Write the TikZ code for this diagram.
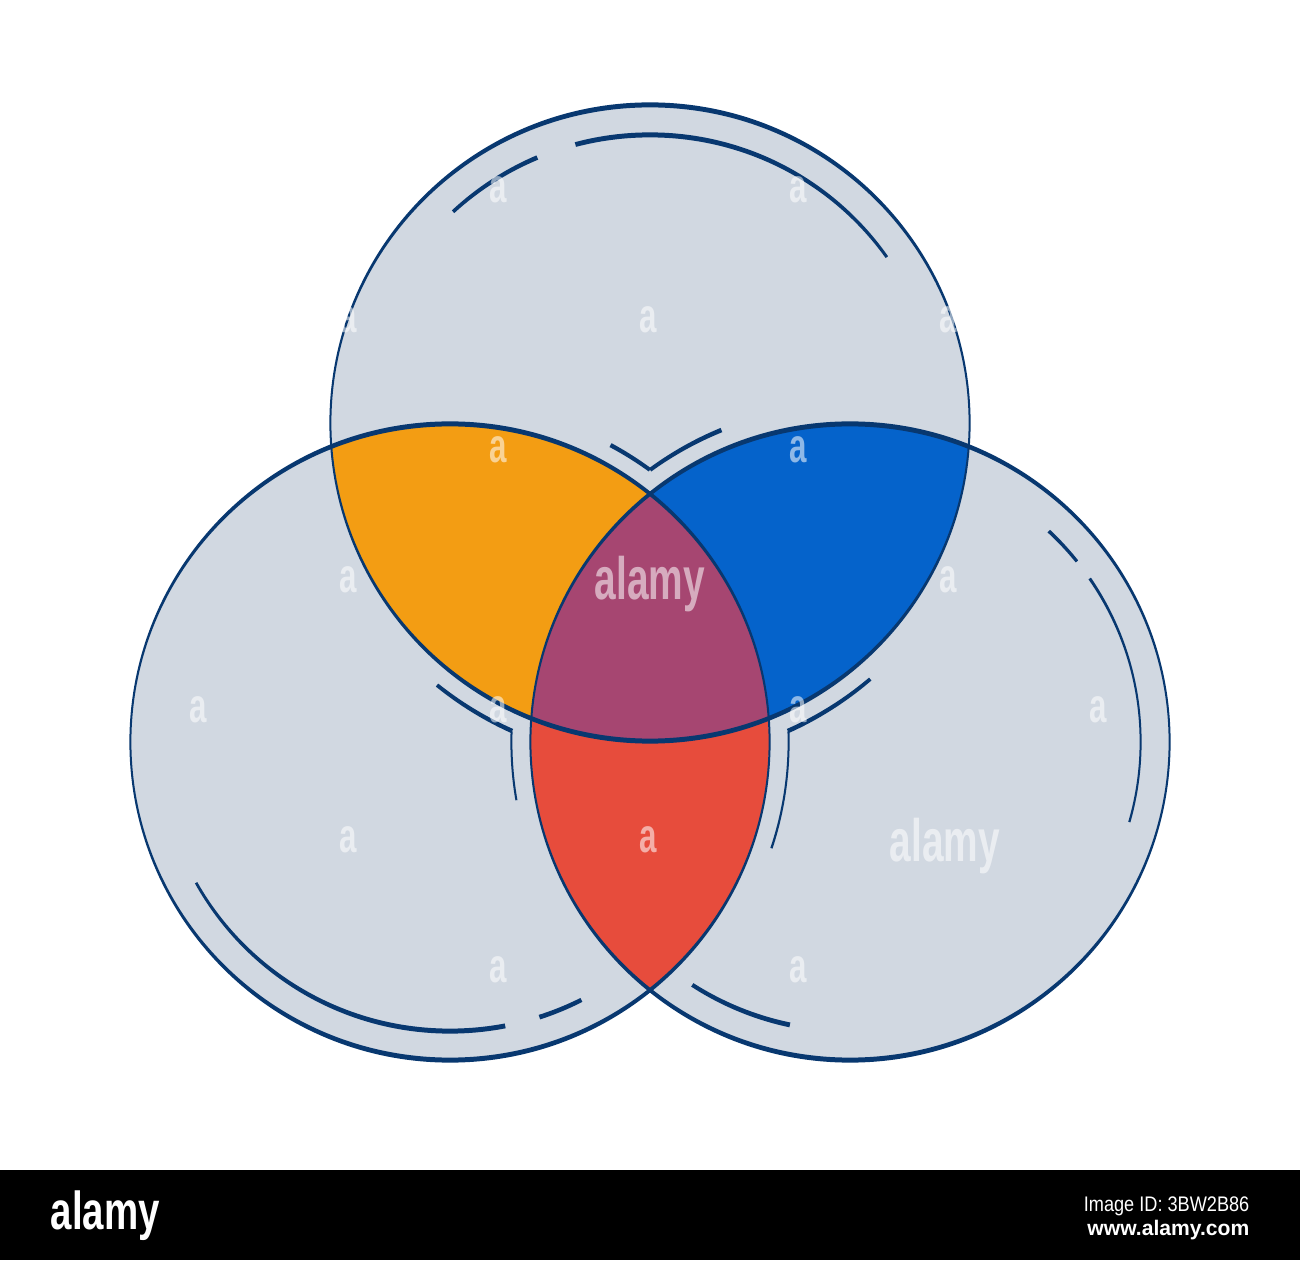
\documentclass[tikz,border=0pt]{standalone}
\usepackage{fontspec}
\newfontfamily\markfont{Liberation Sans}
\definecolor{vengray}{RGB}{209,216,225}
\definecolor{venline}{RGB}{8,56,112}
\definecolor{venorange}{RGB}{243,157,19}
\definecolor{venblue}{RGB}{5,99,203}
\definecolor{venpurple}{RGB}{166,70,113}
\definecolor{venred}{RGB}{231,76,60}

% outline of a circle: thin at the sides, thick at top and bottom
\newcommand{\vennring}[2]{%
  \fill[venline, even odd rule] (#1) circle[radius=#2+1.6] (#1) ellipse[x radius=#2-0.4, y radius=#2-3.4];}
% piece of such an outline between two angles
\newcommand{\vennarc}[4]{%
  \begin{scope}
    \clip (#1) -- ++(#3:420) arc[start angle=#3, end angle=#4, radius=420] -- cycle;
    \vennring{#1}{#2}
  \end{scope}}

\begin{document}
\begin{tikzpicture}[
    x=0.01cm, y=0.01cm,
    wmark/.style={text=white, text opacity=0.55, inner sep=0pt, font=\markfont\bfseries\fontsize{13.7}{14}\selectfont},
    wbig/.style={wmark, font=\markfont\bfseries\fontsize{17}{18}\selectfont},
    bartext/.style={text=white, inner sep=0pt, font=\markfont\fontsize{6}{7}\selectfont}
]
    \useasboundingbox (0,0) rectangle (1300,1260);
    \fill[white] (0,0) rectangle (1300,1260);

    % centres
    \coordinate (top) at (650,837);
    \coordinate (left) at (450,518);
    \coordinate (right) at (850,518);

    % circles
    \fill[vengray] (top) circle[radius=319] (left) circle[radius=319] (right) circle[radius=319];

    % overlaps
    \begin{scope}
        \clip (left) circle[radius=319];
        \fill[venred] (right) circle[radius=319];
    \end{scope}
    \begin{scope}
        \clip (top) circle[radius=319];
        \fill[venorange] (left) circle[radius=319];
        \fill[venblue] (right) circle[radius=319];
        \clip (left) circle[radius=319];
        \fill[venpurple] (right) circle[radius=319];
    \end{scope}

    % outlines
    \vennring{top}{319}
    \vennring{left}{319}
    \vennring{right}{319}

    % inner strokes
    \vennarc{top}{289}{113}{133}
    \vennarc{top}{289}{35}{105}
    \vennarc{left}{290}{209}{281}
    \vennarc{left}{290}{288}{297}
    \vennarc{right}{290}{38.5}{46.7}
    \vennarc{right}{290}{-16}{34.3}
    \vennarc{right}{290}{237}{258}

    % outer strokes next to the overlaps
    \vennarc{left}{338}{53.7}{61.6}
    \vennarc{right}{338}{112.4}{126.3}
    \vennarc{top}{338}{230.9}{245.9}
    \vennarc{top}{338}{294.1}{310.7}
    \vennarc{right}{338}{178.2}{189.9}
    \vennarc{left}{338}{-18.3}{1.8}

    % watermark
    \foreach \wx/\wy in {498/1070, 798/1070, 348/940, 648/940, 948/940, 498/810, 798/810,
                         348/680, 948/680, 198/550, 498/550, 798/550, 1098/550,
                         348/420, 648/420, 498/290, 798/290}
        \node[wmark] at (\wx,\wy) {\scalebox{0.65}[1]{a}};
    \node[wbig] (markmid) at (650,676) {\scalebox{0.65}[1]{alamy}};
    \node[wbig] (markright) at (945,414) {\scalebox{0.65}[1]{alamy}};

    % bottom bar
    \fill[black] (0,0) rectangle (1300,90);
    \node[text=white, inner sep=0pt, anchor=base west, font=\markfont\bfseries\fontsize{15.2}{16}\selectfont] (logo) at (50,31) {\scalebox{0.72}[1]{alamy}};
    \node[bartext, anchor=base east] (imageid) at (1250,49) {\scalebox{0.86}[1]{Image ID: 3BW2B86}};
    \node[bartext, anchor=base east, font=\markfont\bfseries\fontsize{6}{7}\selectfont] (site) at (1250,25) {www.alamy.com};
\end{tikzpicture}
\end{document}
